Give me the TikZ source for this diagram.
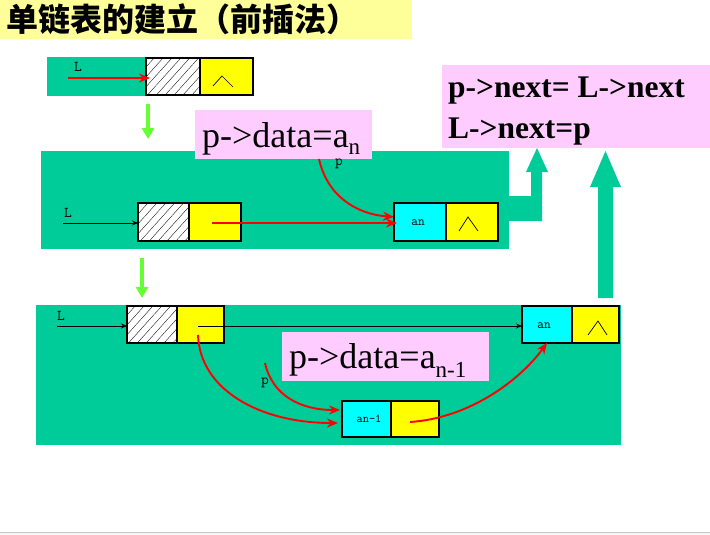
\documentclass[tikz,border=0pt]{standalone}
\usepackage{fontspec}
\setmainfont{Liberation Serif}
\newfontfamily\cjk{Noto Sans CJK SC}
\usetikzlibrary{arrows.meta,patterns.meta,calc}
\definecolor{tealc}{HTML}{00CC99}
\definecolor{greenc}{HTML}{66FF33}
\definecolor{pinkc}{HTML}{FFCCFF}
\definecolor{yellowc}{HTML}{FFFF00}
\definecolor{cyanc}{HTML}{00FFFF}
\definecolor{titley}{HTML}{FFFF99}
\begin{document}
\begin{tikzpicture}[x=1pt,y=-1pt,
  tealbox/.style={fill=tealc, draw=none, inner sep=0, outer sep=0, anchor=north west},
  cellbase/.style={draw=black, line width=1.2pt, inner sep=0, outer sep=0, anchor=north west},
  hatchcell/.style={cellbase, preaction={fill=white}, pattern={Lines[angle=48,distance=6.6pt,line width=0.35pt]}, pattern color=black},
  yellowcell/.style={cellbase, fill=yellowc},
  cyancell/.style={cellbase, fill=cyanc},
  pinkbox/.style={fill=pinkc, draw=none, inner sep=0, outer sep=0, anchor=north west},
  redarr/.style={draw=red, line width=1.9pt, -{Stealth[length=11pt,width=9pt]}},
  blkarr/.style={draw=black, line width=0.8pt, -{Stealth[length=6pt,width=5pt]}},
  garr/.style={draw=greenc, line width=4pt, -{Triangle[length=11pt,width=12pt]}},
  lbl/.style={font=\ttfamily\fontsize{15}{15}\selectfont, inner sep=0},
  cell text/.style={font=\ttfamily\fontsize{13}{13}\selectfont, inner sep=0},
  caret/.style={draw=black, line width=0.7pt},
  blockarrow/.style={fill=tealc, draw=none},
  bigtext/.style={anchor=base west, inner sep=0, font=\fontsize{36}{36}\selectfont},
  boldtext/.style={anchor=base west, inner sep=0, font=\bfseries\fontsize{31.5}{31.5}\selectfont}
]
\useasboundingbox (0,0) rectangle (710,535);
\fill[white] (0,0) rectangle (710,535);
\fill[gray!8] (0,533) rectangle (710,535);
\draw[gray!45, line width=1pt] (0,532.5) -- (710,532.5);

% title
\node[fill=titley, anchor=north west, minimum width=412pt, minimum height=39pt, inner sep=0, outer sep=0] (tb) at (0,0) {};
\node[anchor=base west, inner sep=0, font=\cjk\bfseries\fontsize{32}{32}\selectfont] (title) at (6,31.5) {单链表的建立（前插法）};

% ---------- box 1
\node[tealbox, minimum width=206pt, minimum height=39pt] (b1) at (47,57) {};
\node[hatchcell, minimum width=54pt, minimum height=37pt] (h1) at (146,58) {};
\node[yellowcell, minimum width=53pt, minimum height=37pt] (y1) at (200,58) {};
\node[lbl] (L1) at (78,67) {L};
\coordinate (r1s) at (68,78);
\draw[redarr, shorten >=-4pt] (r1s) -- (h1.west |- r1s);
\draw[caret] ($(y1.center)+(-13.5,9.5)$) -- ($(y1.center)+(-4.5,-0.5)$) -- ($(y1.center)+(6.5,10.5)$);

\coordinate (g1a) at (148,104);
\coordinate (g1b) at (148,139);
\draw[garr] (g1a) -- (g1b);

% ---------- box 2
\node[tealbox, minimum width=468pt, minimum height=98pt] (b2) at (41,151) {};
\node[hatchcell, minimum width=51pt, minimum height=38pt] (h2) at (138,203) {};
\node[yellowcell, minimum width=52pt, minimum height=38pt] (y2) at (189,203) {};
\node[cyancell, minimum width=52pt, minimum height=38pt] (c2) at (394,203) {};
\node[yellowcell, minimum width=52pt, minimum height=38pt] (y2b) at (446,203) {};
\node[lbl] (L2) at (68,213) {L};
\coordinate (l2s) at (63,223);
\draw[blkarr] (l2s) -- (h2.west |- l2s);
\coordinate (y2p) at (212,223);
\draw[redarr, shorten >=-3pt] (y2p) -- (c2.west |- y2p);
\node[cell text] (an2) at (418,222.5) {an};
\draw[caret] ($(y2b.center)+(-13,9)$) -- ($(y2b.center)+(-4,-5)$) -- ($(y2b.center)+(6,9)$);

\node[pinkbox, minimum width=177pt, minimum height=49pt] (pk1) at (195,110) {};
\node[bigtext] (t1) at (202,147) {p->data=a\raisebox{-7pt}{\fontsize{23}{23}\selectfont n}};
\node[lbl] (p2) at (339,164) {p};
\coordinate (p1s) at (319,159);
\draw[redarr] (p1s) .. controls (327,195) and (355,214) .. ($(c2.west)+(0,-5)$);

% L-shaped block arrow
\fill[blockarrow] (509,196) -- (531,196) -- (531,172) -- (526,172) -- (537,148) -- (548,172) -- (542,172) -- (542,221) -- (509,221) -- cycle;

\coordinate (g2a) at (142,258);
\coordinate (g2b) at (142,298);
\draw[garr] (g2a) -- (g2b);

% ---------- box 3
\node[tealbox, minimum width=585pt, minimum height=140pt] (b3) at (36,305) {};
\node[hatchcell, minimum width=50pt, minimum height=37pt] (h3) at (127,306) {};
\node[yellowcell, minimum width=47pt, minimum height=37pt] (y3) at (177,306) {};
\node[cyancell, minimum width=50pt, minimum height=37pt] (c3) at (522,306) {};
\node[yellowcell, minimum width=47pt, minimum height=37pt] (y3b) at (572,306) {};
\node[cyancell, minimum width=49pt, minimum height=36pt] (c4) at (342,401) {};
\node[yellowcell, minimum width=48pt, minimum height=36pt] (y4) at (391,401) {};
\node[lbl] (L3) at (61,316) {L};
\coordinate (l3s) at (57,326);
\draw[blkarr] (l3s) -- (h3.west |- l3s);
\coordinate (y3p) at (198,326);
\draw[blkarr] (y3p) -- (c3.west |- y3p);
\node[cell text] (an3) at (544,326) {an};
\node[cell text, font=\ttfamily\fontsize{12}{12}\selectfont] (an4) at (369,419) {an-1};
\draw[caret] ($(y3b.center)+(-7.5,10.5)$) -- ($(y3b.center)+(2.5,-3.5)$) -- ($(y3b.center)+(11.5,10.5)$);

\node[pinkbox, minimum width=207pt, minimum height=49pt] (pk2) at (282,332) {};
\node[bigtext] (t2) at (289,368) {p->data=a\raisebox{-9pt}{\fontsize{23}{23}\selectfont n-1}};

\coordinate (y3q) at (198,335);
\draw[redarr] (y3q) .. controls (200,390) and (260,423) .. ($(c4.west)+(-4,4)$);
\node[lbl] (p3) at (265,383) {p};
\coordinate (p3s) at (265,363);
\draw[redarr] (p3s) .. controls (272,395) and (300,410) .. ($(c4.west)+(-2,-9)$);
\coordinate (y4p) at (410,422);
\draw[redarr] (y4p) .. controls (470,418) and (520,380) .. (c3.south);

% big block arrow
\fill[blockarrow] (598,298) -- (598,187) -- (590,187) -- (605.5,151) -- (621,187) -- (613,187) -- (613,298) -- cycle;

% right pink box
\node[pinkbox, minimum width=268pt, minimum height=83pt] (pk3) at (442,65) {};
\node[boldtext] (t3) at (448,97) {p->next= L->next};
\node[boldtext] (t4) at (448,138) {L->next=p};
\end{tikzpicture}
\end{document}
